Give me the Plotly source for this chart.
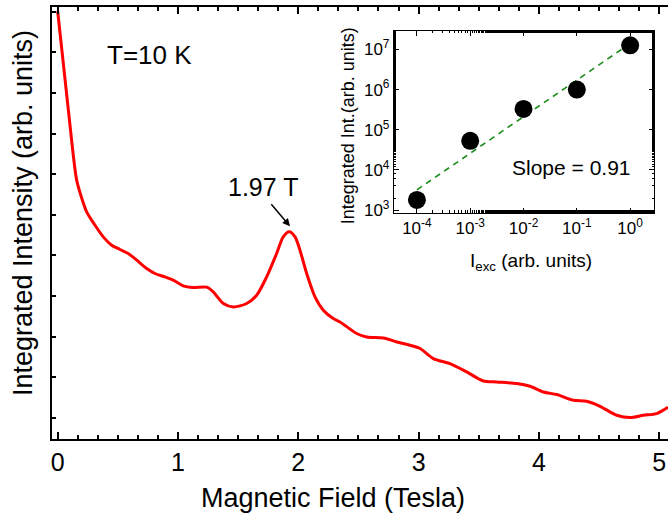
import plotly.graph_objects as go

# Main curve: magnetic field (T) vs integrated intensity (arb. units)
field = [0.0, 0.125, 0.158, 0.200, 0.241, 0.310, 0.379, 0.449, 0.518, 0.587, 0.657, 0.740,
         0.809, 0.892, 0.961, 1.044, 1.127, 1.239, 1.293, 1.377, 1.460, 1.571, 1.654, 1.737,
         1.820, 1.875, 1.925, 1.973, 2.014, 2.070, 2.139, 2.208, 2.291, 2.347, 2.485, 2.569,
         2.707, 2.818, 2.929, 3.012, 3.122, 3.261, 3.400, 3.538, 3.649, 3.815, 3.926, 4.037,
         4.148, 4.286, 4.397, 4.508, 4.647, 4.757, 4.868, 4.979, 5.073]
intensity = [427.7, 288.7, 258.7, 240.7, 227.0, 213.7, 202.0, 193.7, 189.4, 185.4, 178.7, 170.4,
             165.4, 162.0, 158.7, 153.0, 151.4, 151.7, 147.0, 135.4, 132.0, 135.4, 143.7, 162.0,
             185.4, 202.0, 207.0, 202.0, 188.7, 165.4, 142.0, 128.7, 120.4, 117.0, 105.4, 102.0,
             101.0, 97.0, 93.7, 90.4, 80.4, 75.4, 67.0, 58.0, 57.0, 55.4, 52.7, 47.0,
             44.4, 38.7, 37.7, 32.7, 23.7, 21.4, 23.7, 25.4, 31.7]

# Inset: excitation intensity vs integrated intensity (log-log)
i_exc = [1e-4, 1e-3, 1e-2, 1e-1, 1e0]
int_inset = [1.8e3, 5.3e4, 3.3e5, 1.0e6, 1.26e7]
fit_x = [1e-4, 1e0]
fit_y = [3.2e3, 1.4e7]

x_ticks = [0, 1, 2, 3, 4, 5]
inset_x_ticks = [1e-4, 1e-3, 1e-2, 1e-1, 1e0]
inset_x_labels = ["10<sup>-4</sup>", "10<sup>-3</sup>", "10<sup>-2</sup>", "10<sup>-1</sup>", "10<sup>0</sup>"]
inset_y_ticks = [1e3, 1e4, 1e5, 1e6, 1e7]
inset_y_labels = ["10<sup>3</sup>", "10<sup>4</sup>", "10<sup>5</sup>", "10<sup>6</sup>", "10<sup>7</sup>"]

FONT = "Arial, Liberation Sans, sans-serif"

fig = go.Figure()
fig.add_trace(go.Scatter(x=field, y=intensity, mode="lines",
                         line=dict(color="#ff0000", width=3, shape="spline", smoothing=0.8),
                         showlegend=False, xaxis="x", yaxis="y"))
fig.add_trace(go.Scatter(x=fit_x, y=fit_y, mode="lines",
                         line=dict(color="#1a8c1a", width=1.6, dash="6px,5px"),
                         showlegend=False, xaxis="x2", yaxis="y2"))
fig.add_trace(go.Scatter(x=i_exc, y=int_inset, mode="markers",
                         marker=dict(color="black", size=18),
                         showlegend=False, xaxis="x2", yaxis="y2"))

fig.update_layout(
    width=668, height=516,
    margin=dict(l=52, r=0, t=7, b=77),
    paper_bgcolor="white", plot_bgcolor="white",
    font=dict(family=FONT, color="black"),
    xaxis=dict(range=[-0.047, 5.073], tickvals=x_ticks, ticks="inside", ticklen=7, tickwidth=1.5,
               tickcolor="black", showline=True, linewidth=2, linecolor="black", mirror="ticks",
               showgrid=False, zeroline=False, tickfont=dict(size=25),
               minor=dict(dtick=1/6, tick0=0, ticks="inside", ticklen=4, tickwidth=1.5,
                          tickcolor="black", showgrid=False)),
    yaxis=dict(range=[0, 431.7], tick0=21, dtick=40.6, ticks="inside", ticklen=4, tickwidth=1.5,
               tickcolor="black", showline=True, linewidth=2, linecolor="black", mirror=False,
               showgrid=False, zeroline=False, showticklabels=False),
    xaxis2=dict(type="log", domain=[0.555, 0.978], anchor="y2", range=[-4.432, 0.456],
                tickvals=inset_x_ticks, ticktext=inset_x_labels,
                ticks="inside", ticklen=5, tickcolor="black",
                showline=True, linewidth=1, linecolor="black", mirror="allticks",
                showgrid=False, zeroline=False, tickfont=dict(size=17),
                minor=dict(ticks="inside", ticklen=2.5, tickcolor="black", showgrid=False)),
    yaxis2=dict(type="log", domain=[0.5235, 0.945], anchor="x2", range=[2.933, 7.463],
                tickvals=inset_y_ticks, ticktext=inset_y_labels,
                ticks="inside", ticklen=5, tickcolor="black",
                showline=True, linewidth=1, linecolor="black", mirror="allticks",
                showgrid=False, zeroline=False, tickfont=dict(size=17),
                minor=dict(ticks="inside", ticklen=2.5, tickcolor="black", showgrid=False)),
)

annotations = [
    dict(text="Magnetic Field (Tesla)", x=0.456, y=-0.137, xref="paper", yref="paper",
         showarrow=False, font=dict(size=27), xanchor="center", yanchor="middle"),
    dict(text="Integrated Intensity (arb. units)", x=-0.047, y=0.523, xref="paper", yref="paper",
         showarrow=False, font=dict(size=27), textangle=-90, xanchor="center", yanchor="middle"),
    dict(text="T=10 K", x=0.158, y=0.890, xref="paper", yref="paper",
         showarrow=False, font=dict(size=26), xanchor="center", yanchor="middle"),
    dict(text="1.97 T", x=0.3425, y=0.583, xref="paper", yref="paper",
         showarrow=False, font=dict(size=25), xanchor="center", yanchor="middle"),
    dict(text="", x=1.931, y=212.7, ax=1.765, ay=236.0, xref="x", yref="y", axref="x", ayref="y",
         showarrow=True, arrowhead=2, arrowsize=1, arrowwidth=1.5, arrowcolor="black"),
    dict(text="Integrated Int.(arb. units)", x=0.4805, y=0.726, xref="paper", yref="paper",
         showarrow=False, font=dict(size=18), textangle=-90, xanchor="center", yanchor="middle"),
    dict(text="I<sub>exc</sub> (arb. units)", x=0.778, y=0.409, xref="paper", yref="paper",
         showarrow=False, font=dict(size=19), xanchor="center", yanchor="middle"),
    dict(text="Slope = 0.91", x=0.844, y=0.629, xref="paper", yref="paper",
         showarrow=False, font=dict(size=21), xanchor="center", yanchor="middle"),
]
fig.update_layout(annotations=annotations)

fig.write_html("out.html")
